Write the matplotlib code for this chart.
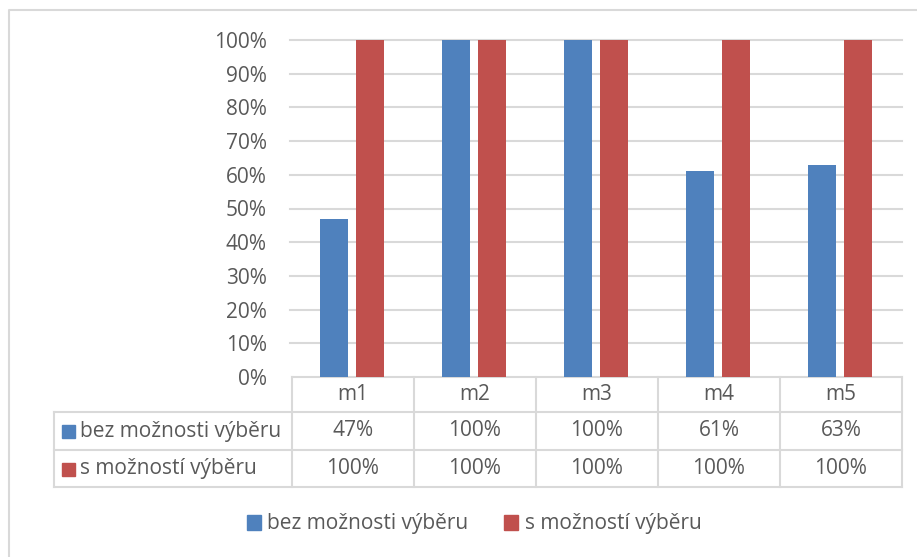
import matplotlib.pyplot as plt
import numpy as np
from matplotlib.patches import Rectangle

# data
categories = ['m1', 'm2', 'm3', 'm4', 'm5']
series_names = ['bez možnosti výběru', 's možností výběru']
bez_vyberu = [47, 100, 100, 61, 63]
s_vyberem = [100, 100, 100, 100, 100]
colors = ['#4F81BD', '#C0504D']
yticks = list(range(0, 101, 10))

W, H = 917, 557
TXT = '#595959'
GRID = '#D9D9D9'
FS = 15
plt.rcParams['font.family'] = ['Open Sans', 'DejaVu Sans']

fig = plt.figure(figsize=(W / 100, H / 100), dpi=100)

# pixel-space overlay for border + table lines
over = fig.add_axes([0, 0, 1, 1])
over.set_xlim(0, W)
over.set_ylim(H, 0)
over.axis('off')
over.plot([9, 9, W], [H, 10, 10], color=GRID, lw=1.5)

# main plot area
x0, x1, ytop, ybot = 292, 902, 40, 377
ax = fig.add_axes([x0 / W, 1 - ybot / H, (x1 - x0) / W, (ybot - ytop) / H])
n = len(categories)
x = np.arange(n)
bw = 0.23
off = 0.146
ax.bar(x - off - 0.01, bez_vyberu, bw, color=colors[0], zorder=3)
ax.bar(x + off - 0.01, s_vyberem, bw, color=colors[1], zorder=3)
ax.set_xlim(-0.5, n - 0.5)
ax.set_ylim(0, 100)
ax.set_yticks(yticks)
ax.set_yticklabels([f'{t}%' for t in yticks], color=TXT, fontsize=FS)
ax.tick_params(axis='y', length=0, pad=18)
ax.set_xticks([])
for t in yticks[1:]:
    ax.plot([-0.52, n - 0.5], [t, t], color=GRID, lw=1.5, zorder=1, clip_on=False)
for s in ax.spines.values():
    s.set_visible(False)
ax.patch.set_alpha(0)

# data table
colw = (x1 - x0) / n
rows_y = [377, 412, 450, 487]
tleft = 54
over.plot([x0, x1], [rows_y[0], rows_y[0]], color=GRID, lw=1.5)
for yy in rows_y[1:]:
    over.plot([tleft, x1], [yy, yy], color=GRID, lw=1.5)
over.plot([tleft, tleft], [rows_y[1], rows_y[3]], color=GRID, lw=1.5)
for i in range(n + 1):
    xx = x0 + i * colw
    over.plot([xx, xx], [rows_y[0], rows_y[3]], color=GRID, lw=1.5)

for i, c in enumerate(categories):
    cx = x0 + (i + 0.5) * colw
    over.text(cx, (rows_y[0] + rows_y[1]) / 2, c, ha='center', va='center',
              color=TXT, fontsize=FS)
    for r, vals in enumerate([bez_vyberu, s_vyberem]):
        over.text(cx, (rows_y[r + 1] + rows_y[r + 2]) / 2, f'{vals[i]}%',
                  ha='center', va='center', color=TXT, fontsize=FS)

for r, name in enumerate(series_names):
    cy = (rows_y[r + 1] + rows_y[r + 2]) / 2
    over.add_patch(Rectangle((62, cy - 6), 13, 13, color=colors[r]))
    over.text(80, cy, name, ha='left', va='center', color=TXT, fontsize=FS)

# legend
handles = [Rectangle((0, 0), 1, 1, color=c) for c in colors]
fig.legend(handles, series_names, loc='center', bbox_to_anchor=(474 / W, 1 - 524 / H),
           ncol=2, frameon=False, fontsize=FS, labelcolor=TXT,
           handlelength=0.7, handleheight=0.7, handletextpad=0.3, columnspacing=1.7)

fig.savefig('out.png', dpi=100)
